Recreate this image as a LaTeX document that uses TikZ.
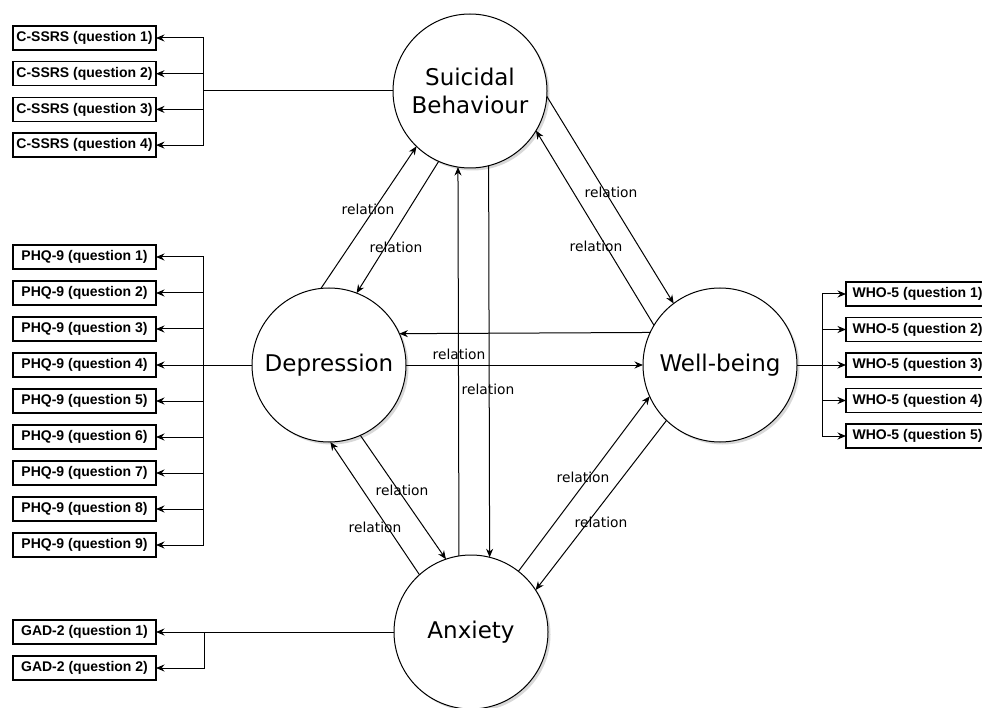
\documentclass[tikz,border=0pt]{standalone}
\usepackage{fontspec}
\setmainfont{DejaVu Sans}
\newfontfamily\boxfont{Liberation Sans}
\usetikzlibrary{arrows.meta,shadows}
\begin{document}
\begin{tikzpicture}[x=1pt,y=-1pt,
  conc/.style={circle, draw, line width=1pt, minimum size=154pt, inner sep=0pt, outer sep=0pt, fill=white,
    font=\fontsize{23}{28}\selectfont, align=center,
    drop shadow={shadow xshift=2.5pt, shadow yshift=-2.5pt, fill=black!30, opacity=0.5}},
  qbox/.style={draw, line width=1.3pt, minimum width=143pt, minimum height=24pt, inner sep=0pt, outer sep=0pt,
    font=\boxfont\bfseries\fontsize{14}{16}\selectfont},
  arr/.style={-{Stealth[length=8.5pt,width=7pt]}, line width=1pt},
  ln/.style={line width=1pt},
  rel/.style={font=\fontsize{13.8}{16}\selectfont, inner sep=0pt}
]
\useasboundingbox (0,0) rectangle (982,708);
\fill[white] (0,0) rectangle (982,708);

% concepts
\node[conc] (S) at (470,91) {Suicidal\\Behaviour};
\node[conc] (D) at (329,365) {Depression};
\node[conc] (W) at (720,365) {Well-being};
\node[conc] (A) at (471,632) {Anxiety};

% relations
\draw[arr] (D.96) -- (S.226);
\draw[arr] (S.246.5) -- (D.69);
\draw[arr] (A.99) -- (S.261.8);
\draw[arr] (S.284.3) -- (A.76.5);
\draw[arr] (S.-4.3) -- (W.127);
\draw[arr] (W.149) -- (S.-31);
\draw[arr] (W.155.4) -- (D.24.6);
\draw[arr] (D.east) -- (W.west);
\draw[arr] (D.-66.3) -- (A.109);
\draw[arr] (A.132) -- (D.-89);
\draw[arr] (A.52) -- (W.204.6);
\draw[arr] (W.226) -- (A.33);

\node[rel] (l1) at (368,209) {relation};
\node[rel] (l2) at (396,247) {relation};
\node[rel] (l3) at (611,192) {relation};
\node[rel] (l4) at (596,246) {relation};
\node[rel] (l5) at (459,354) {relation};
\node[rel] (l6) at (488,389) {relation};
\node[rel] (l7) at (402,490) {relation};
\node[rel] (l8) at (375,527) {relation};
\node[rel] (l9) at (583,477) {relation};
\node[rel] (l10) at (601,522) {relation};

% C-SSRS
\foreach \i/\y in {1/38,2/73.7,3/109.4,4/145.1}
  \node[qbox] (c\i) at (84.5,\y) {C-SSRS (question \i)};
\coordinate (jc) at (203,91);
\draw[ln] (S.west) -- (jc);
\foreach \i in {1,...,4} \draw[arr] (jc) |- (c\i.east);

% PHQ-9
\foreach \i in {1,...,9}
  \node[qbox] (p\i) at (84.5,{257+36*(\i-1)}) {PHQ-9 (question \i)};
\coordinate (jp) at (203,365);
\draw[ln] (D.west) -- (jp);
\foreach \i in {1,...,9} \draw[arr] (jp) |- (p\i.east);

% GAD-2
\node[qbox] (g1) at (84.5,632) {GAD-2 (question 1)};
\node[qbox] (g2) at (84.5,668) {GAD-2 (question 2)};
\coordinate (jg) at (204,632);
\draw[ln] (A.west) -- (jg);
\foreach \i in {1,2} \draw[arr] (jg) |- (g\i.east);

% WHO-5
\foreach \i in {1,...,5}
  \node[qbox] (w\i) at (917.5,{294+35.5*(\i-1)}) {WHO-5 (question \i)};
\coordinate (jw) at (822,365);
\draw[ln] (W.east) -- (jw);
\foreach \i in {1,...,5} \draw[arr] (jw) |- (w\i.west);
\end{tikzpicture}
\end{document}
